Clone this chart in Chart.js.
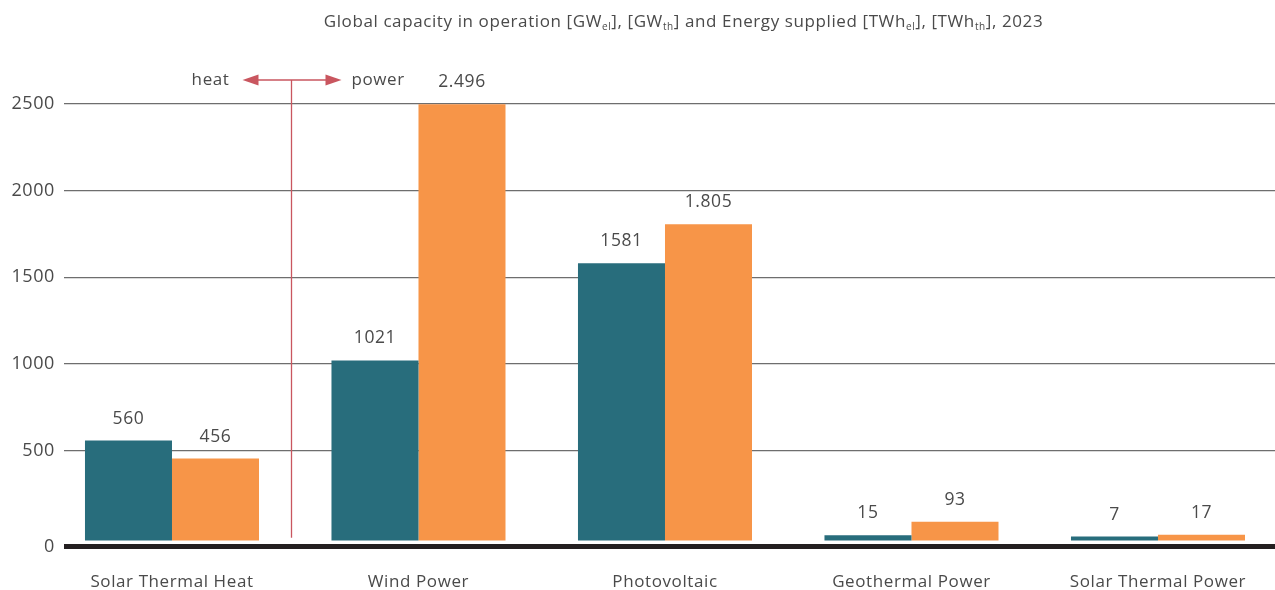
<!DOCTYPE html>
<html><head><meta charset="utf-8">
<script src="https://cdn.jsdelivr.net/npm/chart.js@4.4.1/dist/chart.umd.min.js"></script>
<style>html,body{margin:0;padding:0;background:#fff;overflow:hidden}#wrap{width:1275px;height:590px;position:relative}</style>
</head><body><div id="wrap"><canvas id="c"></canvas></div>
<script>
const categories = ['Solar Thermal Heat', 'Wind Power', 'Photovoltaic', 'Geothermal Power', 'Solar Thermal Power'];
const capacity = [560, 1021, 1581, 15, 7];
const energy = [456, 2496, 1805, 93, 17];
const capacityLabels = ['560', '1021', '1581', '15', '7'];
const energyLabels = ['456', '2.496', '1.805', '93', '17'];
const yTicks = [0, 500, 1000, 1500, 2000, 2500];
const titleParts = [
  ['Global capacity in operation [GW', 0], ['el', 1], ['], [GW', 0], ['th', 1],
  ['] and Energy supplied [TWh', 0], ['el', 1], ['], [TWh', 0], ['th', 1], ['], 2023', 0]
];
const annotation = { left: 'heat', right: 'power' };

const FONT = '"Open Sans", Lato, sans-serif';
const TEXT = '#4a4a4a';
const Y_MIN = -50;
const SPACING = '0.6px';

const spacingPlugin = {
  id: 'spacing',
  beforeDraw(chart) { chart.ctx.letterSpacing = SPACING; }
};

const valueLabelsPlugin = {
  id: 'valueLabels',
  afterDatasetsDraw(chart) {
    const ctx = chart.ctx;
    ctx.save();
    ctx.font = '17.5px ' + FONT;
    ctx.fillStyle = TEXT;
    ctx.textAlign = 'center';
    ctx.textBaseline = 'middle';
    const sets = [capacityLabels, energyLabels];
    chart.data.datasets.forEach((ds, di) => {
      const meta = chart.getDatasetMeta(di);
      meta.data.forEach((bar, i) => {
        ctx.fillText(sets[di][i], bar.x, bar.y - 22);
      });
    });
    ctx.restore();
  }
};

const annotationPlugin = {
  id: 'heatPower',
  afterDatasetsDraw(chart) {
    const ctx = chart.ctx;
    const xs = chart.scales.x, ys = chart.scales.y;
    const x = Math.round(xs.getPixelForValue(0.484)) + 0.5;
    const yTop = 80;
    const yBot = ys.getPixelForValue(0);
    const col = '#c9565f';
    ctx.save();
    ctx.strokeStyle = col; ctx.fillStyle = col; ctx.lineWidth = 1.3;
    ctx.beginPath(); ctx.moveTo(x, yTop); ctx.lineTo(x, yBot); ctx.stroke();
    ctx.beginPath(); ctx.moveTo(x - 36, yTop); ctx.lineTo(x + 36, yTop); ctx.stroke();
    ctx.beginPath(); ctx.moveTo(x - 49, yTop); ctx.lineTo(x - 33, yTop - 5.5); ctx.lineTo(x - 33, yTop + 5.5); ctx.closePath(); ctx.fill();
    ctx.beginPath(); ctx.moveTo(x + 50, yTop); ctx.lineTo(x + 34, yTop - 5.5); ctx.lineTo(x + 34, yTop + 5.5); ctx.closePath(); ctx.fill();
    ctx.font = '17px ' + FONT; ctx.fillStyle = TEXT; ctx.textBaseline = 'middle';
    ctx.textAlign = 'right'; ctx.fillText(annotation.left, x - 62, yTop);
    ctx.textAlign = 'left'; ctx.fillText(annotation.right, x + 60, yTop);
    ctx.restore();
  }
};

const titlePlugin = {
  id: 'subTitle',
  afterDraw(chart) {
    const ctx = chart.ctx;
    ctx.save();
    ctx.fillStyle = TEXT; ctx.textBaseline = 'alphabetic'; ctx.textAlign = 'left';
    const mainF = '17px ' + FONT, subF = '10px ' + FONT;
    let total = 0;
    titleParts.forEach(([t, s]) => { ctx.font = s ? subF : mainF; total += ctx.measureText(t).width; });
    let x = 683.5 - total / 2;
    const base = 27;
    titleParts.forEach(([t, s]) => {
      ctx.font = s ? subF : mainF;
      ctx.fillText(t, x, s ? base + 3 : base);
      x += ctx.measureText(t).width;
    });
    ctx.restore();
  }
};

new Chart(document.getElementById('c'), {
  type: 'bar',
  data: {
    datasets: [
      { label: 'Capacity', data: capacity.map((v, i) => ({ x: i, y: v })), backgroundColor: '#286d7c', base: -16,
        categoryPercentage: 0.706, barPercentage: 1 },
      { label: 'Energy', data: energy.map((v, i) => ({ x: i, y: v })), backgroundColor: '#f79548', base: -16,
        categoryPercentage: 0.706, barPercentage: 1 }
    ]
  },
  options: {
    responsive: true, maintainAspectRatio: false, animation: false,
    layout: { padding: { top: 68.8, left: 0, right: 0, bottom: 0 } },
    plugins: { legend: { display: false }, title: { display: false }, tooltip: { enabled: false } },
    scales: {
      x: {
        type: 'linear', min: -0.4381, max: 4.4747, offset: false,
        grid: { display: false, drawTicks: false }, border: { display: false },
        afterBuildTicks: s => { s.ticks = categories.map((c, i) => ({ value: i })); },
        afterFit: s => { s.height = 43.5; },
        ticks: { autoSkip: false, maxRotation: 0, padding: 25, color: TEXT, font: { family: FONT, size: 17 },
          callback: v => categories[v] }
      },
      y: {
        min: Y_MIN, max: 2700,
        afterBuildTicks: s => { s.ticks = yTicks.map(v => ({ value: v === 0 ? Y_MIN : v })); },
        afterFit: s => { s.width = 64; },
        grid: { drawTicks: false,
          color: c => c.tick && c.tick.value === Y_MIN ? '#231f20' : '#6e6e6e',
          lineWidth: c => c.tick && c.tick.value === Y_MIN ? 5 : 1.3 },
        border: { display: false },
        ticks: { padding: 9, color: TEXT, font: { family: FONT, size: 18 },
          callback: v => (v === Y_MIN ? '0' : String(v)) }
      }
    }
  },
  plugins: [spacingPlugin, valueLabelsPlugin, annotationPlugin, titlePlugin]
});
</script></body></html>
